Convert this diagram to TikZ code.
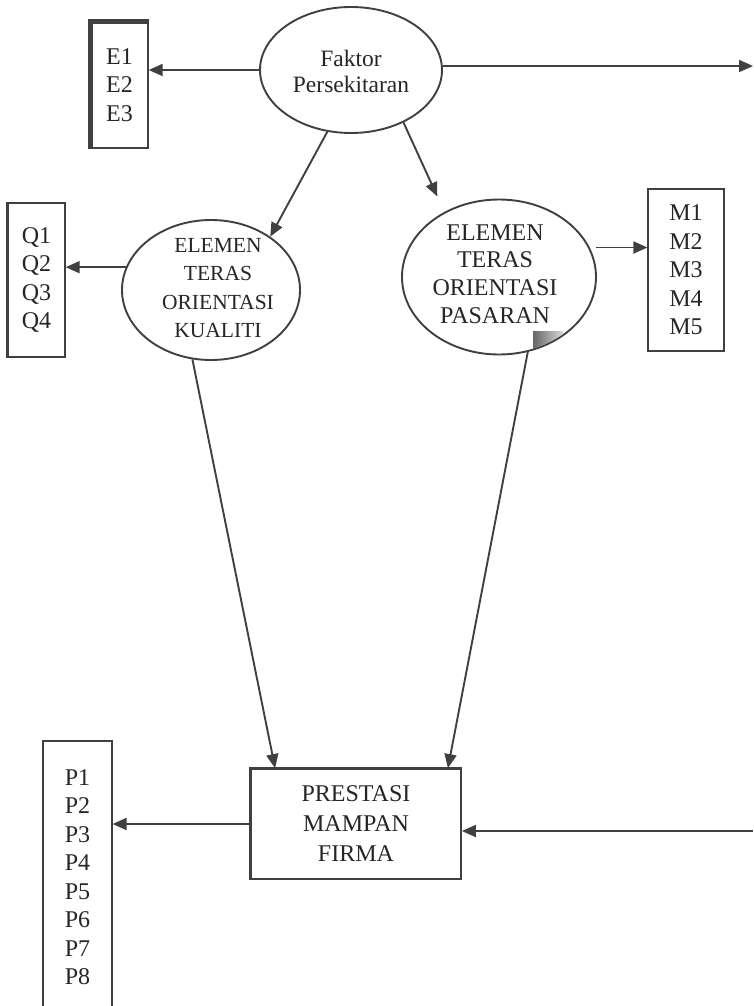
\documentclass[tikz,border=0pt]{standalone}
\usepackage{fontspec}
\setmainfont{Liberation Serif}
\usetikzlibrary{arrows.meta,shapes.geometric}
\begin{document}
\begin{tikzpicture}[x=1pt,y=-1pt,
  ln/.style={draw=black!75, line width=1.9pt},
  arr/.style={ln, -{Triangle[length=14pt,width=12pt]}},
  boxnode/.style={draw=black!75, line width=1.4pt, inner sep=0pt, align=center, text=black!85, font=\fontsize{24}{28.5}\selectfont},
  ell/.style={ellipse, draw=black!75, line width=1.9pt, inner sep=0pt},
  txt/.style={align=center, text=black!85, inner sep=0pt, font=\fontsize{24}{28}\selectfont}]
\useasboundingbox[fill=white] (0,0) rectangle (753,1006);

% ellipses
\node[ell, minimum width=182pt, minimum height=126pt] (f) at (351,70) {};
\node[txt, font=\fontsize{23.5}{26}\selectfont] (ft) at (351,71) {Faktor\\Persekitaran};

\node[ell, minimum width=178pt, minimum height=140pt] (k) at (211,290) {};
\node[txt, font=\fontsize{21.5}{28.3}\selectfont] (kt) at (218,288) {ELEMEN\\TERAS\\ORIENTASI\\KUALITI};

\node[ell, minimum width=194pt, minimum height=155pt] (m) at (499,277) {};
\node[txt, font=\fontsize{24}{27.7}\selectfont] (mt) at (495,274) {ELEMEN\\TERAS\\ORIENTASI\\PASARAN};
\begin{scope}
  \clip (499,277) ellipse [x radius=96pt, y radius=76.5pt];
  \shade[left color=black!60, right color=black!15] (533,331) rectangle (563,348);
\end{scope}

% boxes
\node[boxnode, minimum width=57pt, minimum height=126pt] (E) at (119.5,85) {E1\\E2\\E3};
\draw[black!75, line width=5pt] (E.south west) -- (E.north west) -- (E.north east);

\node[boxnode, minimum width=57pt, minimum height=154pt] (Q) at (36.5,280) {Q1\\Q2\\Q3\\Q4};
\draw[black!75, line width=3.5pt] (Q.south west) -- (Q.north west);

\node[boxnode, line width=1.2pt, minimum width=76pt, minimum height=162pt] (M) at (686,270) {M1\\M2\\M3\\M4\\M5};

\node[boxnode, line width=1.2pt, minimum width=69pt, minimum height=272pt] (P) at (77.5,877) {P1\\P2\\P3\\P4\\P5\\P6\\P7\\P8};

\node[boxnode, line width=1.8pt, minimum width=210pt, minimum height=110pt, font=\fontsize{24}{30}\selectfont] (p) at (356,824) {PRESTASI\\MAMPAN\\FIRMA};
\draw[black!75, line width=3pt] (p.south west) -- (p.north west) -- (p.north east);

% free ends at the right edge
\coordinate (r1) at (753,66);
\coordinate (r2) at (753,831);

% connectors
\draw[arr] (f.west) -- (E.east |- f.west);
\draw[arr] (f.east |- r1) -- (r1);
\draw[arr] (f.249) -- (k.42);
\draw[arr, shorten >=17pt] (f.315) -- (m.130);
\draw[arr] (k.165) -- (Q.east |- k.165);
\draw[arr] ([xshift=6pt]m.18) -- (M.west |- m.18);
\draw[arr] (k.255) -- ([xshift=25pt]p.north west);
\draw[arr] (m.291) -- ([xshift=-14pt]p.north east);
\draw[arr] (p.west) -- (P.east |- p.west);
\draw[arr] (r2) -- (p.east |- r2);
\end{tikzpicture}
\end{document}
